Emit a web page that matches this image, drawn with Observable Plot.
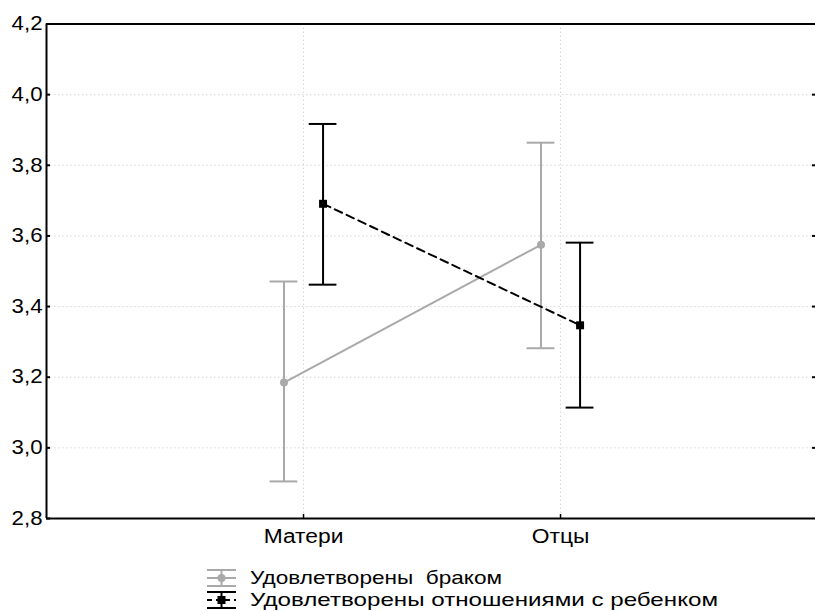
<!DOCTYPE html>
<html>
<head>
<meta charset="utf-8">
<script src="https://cdn.jsdelivr.net/npm/d3@7"></script>
<script src="https://cdn.jsdelivr.net/npm/@observablehq/plot@0.6"></script>
<style>
  body { margin: 0; background: #fff; font-family: "Liberation Sans", Arial, sans-serif; }
  #chart svg { display: block; }
</style>
</head>
<body>
<div id="chart"></div>
<div id="legend"></div>
<script>
// ---- data ----
const categories = ["Матери", "Отцы"];
const seriesNames = ["Удовлетворены  браком", "Удовлетворены отношениями с ребенком"];
const marriageMean = [3.185, 3.575];
const marriageLow  = [2.905, 3.282];
const marriageHigh = [3.471, 3.864];
const childMean = [3.691, 3.347];
const childLow  = [3.462, 3.114];
const childHigh = [3.917, 3.581];
const yTicks = [2.8, 3.0, 3.2, 3.4, 3.6, 3.8, 4.0, 4.2];

const GREY = "#a9a9a9";
const BLACK = "#000";
const offset = 0.076;   // horizontal dodge in category units
const cap = 0.054;      // half cap width in category units

const marriage = categories.map((c, i) => ({cat: c, x: i + 1 - offset, mean: marriageMean[i], lo: marriageLow[i], hi: marriageHigh[i]}));
const child = categories.map((c, i) => ({cat: c, x: i + 1 + offset, mean: childMean[i], lo: childLow[i], hi: childHigh[i]}));

const fmt = d => d.toFixed(1).replace(".", ",");
const inner = yTicks.filter(t => t > 2.8 && t < 4.2);

const errMarks = (data, color) => [
  Plot.ruleX(data, {x: "x", y1: "lo", y2: "hi", stroke: color, strokeWidth: 2}),
  Plot.ruleY(data, {y: "hi", x1: d => d.x - cap, x2: d => d.x + cap, stroke: color, strokeWidth: 2}),
  Plot.ruleY(data, {y: "lo", x1: d => d.x - cap, x2: d => d.x + cap, stroke: color, strokeWidth: 2})
];

const chart = Plot.plot({
  width: 815,
  height: 555,
  marginLeft: 46,
  marginRight: 0,
  marginTop: 23.5,
  marginBottom: 37,
  style: {fontFamily: "Liberation Sans, Arial, sans-serif", fontSize: "19px", color: "#000", background: "#fff"},
  x: {domain: [0, 2.992]},
  y: {domain: [2.8, 4.2]},
  marks: [
    // grid
    Plot.ruleY(inner, {stroke: "#d6d6d6", strokeWidth: 1, strokeDasharray: "1.5,2.5"}),
    Plot.ruleX([1, 2], {stroke: "#d6d6d6", strokeWidth: 1, strokeDasharray: "1.5,2.5"}),
    // axes
    Plot.axisY({ticks: yTicks, tickFormat: fmt, tickSize: -4, tickPadding: 8, fontSize: 19.5, strokeWidth: 2, label: null}),
    Plot.axisY({anchor: "right", ticks: inner, tickFormat: () => "", tickSize: -4, strokeWidth: 2, label: null}),
    Plot.axisX({ticks: [1, 2], tickFormat: d => categories[d - 1], tickSize: -4, tickPadding: 14, fontSize: 20, strokeWidth: 1.5, label: null}),
    // frame
    Plot.ruleY([2.8, 4.2], {stroke: "#000", strokeWidth: 2}),
    Plot.ruleX([0], {stroke: "#000", strokeWidth: 2}),
    // series
    ...errMarks(marriage, GREY),
    Plot.line(marriage, {x: "x", y: "mean", stroke: GREY, strokeWidth: 2}),
    ...errMarks(child, BLACK),
    Plot.line(child, {x: "x", y: "mean", stroke: BLACK, strokeWidth: 2, strokeDasharray: "8,5"}),
    Plot.dot(marriage, {x: "x", y: "mean", r: 4, fill: GREY, stroke: null}),
    Plot.dot(child, {x: "x", y: "mean", symbol: "square", r: 4.5, fill: BLACK, stroke: null})
  ]
});
document.getElementById("chart").appendChild(chart);
// widen glyphs slightly, as in the reference
chart.querySelectorAll("text").forEach(t => {
  const len = t.getComputedTextLength();
  if (len > 0) {
    t.setAttribute("textLength", (len * 1.14).toFixed(1));
    t.setAttribute("lengthAdjust", "spacingAndGlyphs");
  }
});

// ---- legend ----
const lg = d3.select("#legend").append("svg").attr("width", 815).attr("height", 56).style("display", "block")
  .attr("font-family", "Liberation Sans, Arial, sans-serif").attr("font-size", 18.5);
function symbol(g, y0, color, square, dashed) {
  const x0 = 207, x1 = 236, xm = 221.5;
  g.append("line").attr("x1", x0).attr("x2", x1).attr("y1", y0 - 8).attr("y2", y0 - 8).attr("stroke", color).attr("stroke-width", 2);
  g.append("line").attr("x1", x0).attr("x2", x1).attr("y1", y0 + 8).attr("y2", y0 + 8).attr("stroke", color).attr("stroke-width", 2);
  g.append("line").attr("x1", xm).attr("x2", xm).attr("y1", y0 - 8).attr("y2", y0 + 8).attr("stroke", color).attr("stroke-width", 2);
  g.append("line").attr("x1", x0).attr("x2", x1).attr("y1", y0).attr("y2", y0).attr("stroke", color).attr("stroke-width", 2)
    .attr("stroke-dasharray", dashed ? "5,4" : null);
  if (square) g.append("rect").attr("x", xm - 4).attr("y", y0 - 4).attr("width", 8).attr("height", 8).attr("fill", color);
  else g.append("circle").attr("cx", xm).attr("cy", y0).attr("r", 4).attr("fill", color);
}
const g = lg.append("g");
symbol(g, 23, GREY, false, false);
symbol(g, 45, BLACK, true, true);
lg.append("text").attr("x", 250).attr("y", 29).style("white-space", "pre")
  .attr("textLength", 252).attr("lengthAdjust", "spacingAndGlyphs").text(seriesNames[0]);
lg.append("text").attr("x", 250).attr("y", 51)
  .attr("textLength", 468).attr("lengthAdjust", "spacingAndGlyphs").text(seriesNames[1]);
</script>
</body>
</html>
